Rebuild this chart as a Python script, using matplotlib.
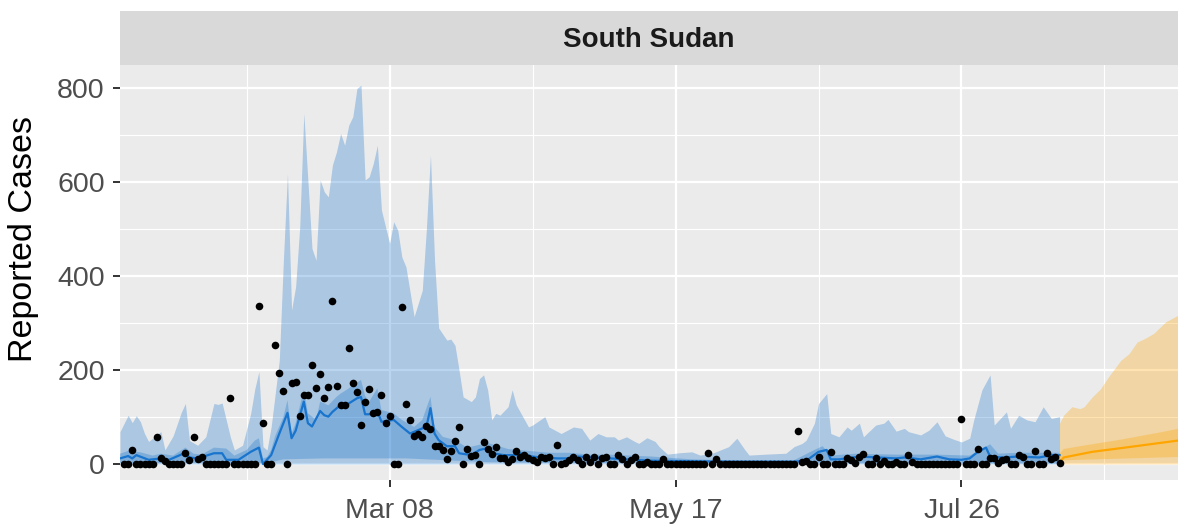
import numpy as np
import matplotlib
matplotlib.use("Agg")
import matplotlib.pyplot as plt
import matplotlib.dates as mdates

plt.rcParams["font.family"] = ["Liberation Sans", "DejaVu Sans"]

# ---- data (day index counted from 2021-01-01) ------------------------------
start = np.datetime64("2021-01-01")
country = "South Sudan"

# daily reported cases, days 1..230 (rows of 10 days)
obs_cases = [
    0, 0, 30, 0, 0, 0, 0, 0, 58, 12,
    7, 0, 0, 0, 0, 23, 8, 58, 10, 14,
    0, 0, 0, 0, 0, 0, 140, 0, 0, 0,
    0, 0, 0, 337, 87, 0, 0, 253, 194, 155,
    0, 172, 175, 102, 148, 147, 211, 161, 192, 140,
    165, 347, 166, 125, 125, 248, 172, 153, 83, 133,
    160, 108, 111, 148, 88, 102, 0, 0, 334, 128,
    94, 60, 63, 58, 80, 74, 38, 38, 30, 11,
    28, 50, 78, 0, 31, 17, 19, 0, 46, 31,
    21, 36, 12, 12, 5, 11, 28, 16, 19, 12,
    9, 5, 16, 12, 16, 0, 40, 0, 3, 9,
    16, 9, 0, 16, 5, 14, 0, 12, 14, 0,
    0, 19, 10, 0, 8, 16, 0, 0, 5, 0,
    0, 0, 10, 0, 0, 0, 0, 0, 0, 0,
    0, 0, 0, 24, 0, 10, 0, 0, 0, 0,
    0, 0, 0, 0, 0, 0, 0, 0, 0, 0,
    0, 0, 0, 0, 0, 70, 5, 7, 0, 0,
    16, 0, 0, 25, 0, 0, 0, 12, 8, 2,
    14, 21, 0, 0, 12, 0, 7, 0, 0, 5,
    0, 0, 19, 5, 0, 0, 0, 0, 0, 0,
    0, 0, 0, 0, 0, 96, 0, 0, 0, 33,
    0, 0, 12, 12, 2, 9, 10, 0, 0, 19,
    16, 0, 0, 28, 0, 0, 23, 10, 16, 3,
]
obs_first_day = 1

# fitted model: upper 90% interval
up90_day = [0, 2, 3, 4, 5, 6, 7, 8, 10, 11, 13, 14, 15, 16, 17, 19, 21, 23, 24, 25,
            27, 28, 30, 32, 33, 34, 35, 36, 37, 39, 40, 41, 42, 43, 44, 45, 47, 48, 49, 50,
            51, 52, 53, 54, 55, 56, 57, 58, 59, 60, 61, 62, 63, 64, 66, 67, 68, 69, 70, 72,
            74, 75, 76, 77, 78, 80, 81, 82, 83, 84, 86, 87, 88, 89, 90, 91, 92, 93, 95, 96,
            97, 100, 101, 104, 105, 108, 111, 113, 115, 117, 119, 121, 122, 124, 126, 127, 129, 131, 132, 134,
            137, 140, 142, 145, 149, 151, 153, 154, 158, 163, 165, 167, 168, 170, 171, 173, 174, 176, 178, 179,
            181, 182, 185, 187, 188, 190, 192, 193, 196, 198, 200, 202, 204, 206, 208, 209, 211, 213, 214, 217,
            218, 220, 222, 224, 226, 228, 230]
up90 = [69, 104, 88, 103, 90, 65, 48, 55, 69, 30, 60, 85, 110, 129, 50, 40, 58, 129, 127, 130,
        58, 30, 40, 108, 160, 197, 37, 30, 79, 221, 434, 619, 328, 378, 505, 747, 459, 434, 605, 580,
        569, 637, 665, 704, 679, 722, 740, 800, 807, 605, 612, 640, 679, 541, 470, 516, 498, 441, 420, 314,
        370, 500, 658, 434, 290, 264, 266, 253, 200, 143, 133, 143, 182, 190, 158, 94, 108, 104, 122, 158,
        126, 79, 83, 101, 79, 65, 79, 76, 51, 65, 58, 58, 51, 58, 48, 44, 56, 48, 37, 21,
        24, 26, 19, 23, 37, 55, 30, 19, 21, 23, 37, 44, 51, 87, 129, 150, 65, 58, 79, 72,
        87, 58, 83, 87, 95, 70, 76, 69, 62, 72, 90, 60, 53, 47, 55, 94, 158, 190, 83, 111,
        76, 104, 94, 90, 122, 97, 101]

# fitted model: 50% interval
up50_day = [0, 2, 5, 8, 10, 13, 16, 18, 20, 23, 26, 28, 31, 33, 34, 35, 36, 37, 38, 40,
            41, 42, 43, 45, 46, 48, 49, 51, 53, 54, 56, 57, 59, 60, 61, 63, 64, 67, 69, 72,
            74, 76, 77, 79, 82, 85, 90, 95, 100, 105, 110, 115, 120, 130, 140, 150, 165, 170, 172, 174,
            180, 190, 200, 208, 211, 213, 215, 220, 225, 230]
up50 = [22, 28, 25, 18, 22, 18, 35, 22, 20, 35, 33, 18, 30, 50, 55, 12, 15, 30, 60, 100,
        136, 65, 87, 158, 108, 94, 133, 125, 143, 150, 161, 168, 179, 145, 133, 161, 115, 108, 94, 79,
        94, 143, 79, 58, 51, 35, 45, 32, 28, 24, 24, 20, 20, 16, 10, 8, 8, 30, 38, 18,
        22, 20, 20, 18, 32, 42, 22, 24, 24, 24]
low50_day = [0, 36, 40, 50, 70, 80, 90, 110, 230]
low50 = [2, 2, 10, 12, 12, 8, 4, 2, 1]

# fitted model: median
med_day = [0, 2, 3, 4, 7, 10, 12, 16, 17, 19, 23, 25, 26, 29, 32, 34, 35, 37, 39, 41,
           42, 43, 45, 46, 47, 49, 50, 51, 52, 54, 55, 56, 58, 59, 60, 61, 63, 64, 67, 69,
           71, 74, 75, 76, 77, 78, 80, 82, 83, 86, 88, 90, 91, 94, 97, 98, 101, 103, 107, 110,
           112, 120, 130, 140, 150, 165, 168, 171, 173, 174, 176, 181, 190, 192, 196, 200, 203, 206, 208, 210,
           212, 213, 216, 220, 225, 228, 230]
med = [12, 17, 12, 19, 9, 12, 9, 24, 14, 12, 23, 23, 9, 9, 26, 35, 0, 19, 65, 109,
       55, 71, 133, 87, 80, 113, 104, 101, 111, 126, 123, 129, 140, 143, 106, 106, 113, 90, 94, 79,
       65, 76, 79, 119, 65, 51, 38, 38, 23, 19, 30, 34, 23, 19, 19, 23, 16, 14, 12, 12,
       16, 12, 7, 6, 5, 5, 7, 26, 30, 10, 10, 16, 12, 14, 10, 16, 10, 9, 12, 26,
       35, 16, 14, 16, 14, 19, 19]

# forecast
fc_up90_day = [230, 231, 233, 235, 236, 238, 240, 242, 245, 247, 249, 251, 253, 256, 259]
fc_up90 = [87, 104, 122, 118, 122, 143, 160, 186, 221, 235, 260, 268, 278, 303, 317]
fc_up50_day = [230, 231, 235, 240, 245, 250, 255, 259]
fc_up50 = [22, 32, 38, 45, 52, 60, 68, 75]
fc_low50_day = [230, 231, 259]
fc_low50 = [1, 8, 15]
fc_med_day = [230, 231, 238, 246, 259]
fc_med = [3, 14, 26, 35, 50]

major_ticks = ["2021-03-08", "2021-05-17", "2021-07-26"]
major_labels = ["Mar 08", "May 17", "Jul 26"]
minor_ticks = ["2021-02-01", "2021-04-12", "2021-06-21", "2021-08-30"]
x_range = [0, 259]


def to_num(days):
    d = start + np.asarray(days).astype("timedelta64[D]")
    return mdates.date2num(d)


blue = "#1874CD"
orange = "#FFA500"

fig = plt.figure(figsize=(11.78, 5.26), dpi=100)
left, bottom, top = 120 / 1178, 1 - 480 / 526, 1 - 65 / 526
ax = fig.add_axes([left, bottom, 1 - left, top - bottom])
ax.set_facecolor("#EBEBEB")
for s in ax.spines.values():
    s.set_visible(False)

# bands
ax.fill_between(to_num(up90_day), 0, up90, color=blue, alpha=0.3, lw=0, zorder=2)
ax.fill(np.concatenate([to_num(up50_day), to_num(low50_day)[::-1]]),
        np.concatenate([up50, low50[::-1]]), color=blue, alpha=0.3, lw=0, zorder=2)
ax.plot(to_num(med_day), med, color=blue, lw=1.6, zorder=3)

ax.fill_between(to_num(fc_up90_day), 0, fc_up90, color=orange, alpha=0.3, lw=0, zorder=2)
ax.fill(np.concatenate([to_num(fc_up50_day), to_num(fc_low50_day)[::-1]]),
        np.concatenate([fc_up50, fc_low50[::-1]]), color=orange, alpha=0.3, lw=0, zorder=2)
ax.plot(to_num(fc_med_day), fc_med, color=orange, lw=1.6, zorder=3)

obs_days = obs_first_day + np.arange(len(obs_cases))
ax.scatter(to_num(obs_days), obs_cases, s=30, color="black", lw=0, zorder=4)

# axes
ax.set_xlim(to_num(x_range))
ax.set_ylim(-34, 850)
ax.set_yticks([0, 200, 400, 600, 800])
ax.set_yticks([100, 300, 500, 700], minor=True)
ax.set_xticks(mdates.date2num(np.array(major_ticks, dtype="datetime64[D]")))
ax.set_xticklabels(major_labels)
ax.set_xticks(mdates.date2num(np.array(minor_ticks, dtype="datetime64[D]")), minor=True)
ax.grid(which="major", color="white", lw=1.6, zorder=0)
ax.grid(which="minor", color="white", lw=0.8, zorder=0)
ax.set_axisbelow(True)
ax.tick_params(which="major", length=5, width=1.4, color="#333333",
               labelsize=20.5, labelcolor="#4D4D4D")
ax.tick_params(axis="y", which="major", pad=6)
ax.tick_params(axis="x", which="major", pad=8)
ax.tick_params(which="minor", length=0)

fig.text(24 / 1178, 1 - 239 / 526, "Reported Cases", rotation=90,
         ha="center", va="center", fontsize=24.5, color="black")

# facet strip
strip = fig.add_axes([left, top, 1 - left, 54 / 526])
strip.set_facecolor("#D9D9D9")
strip.set_xticks([])
strip.set_yticks([])
for s in strip.spines.values():
    s.set_visible(False)
strip.text(0.5, 0.46, country, ha="center", va="center", fontsize=20,
           fontweight="bold", color="#1A1A1A", transform=strip.transAxes)

fig.savefig("out.png", dpi=100)
